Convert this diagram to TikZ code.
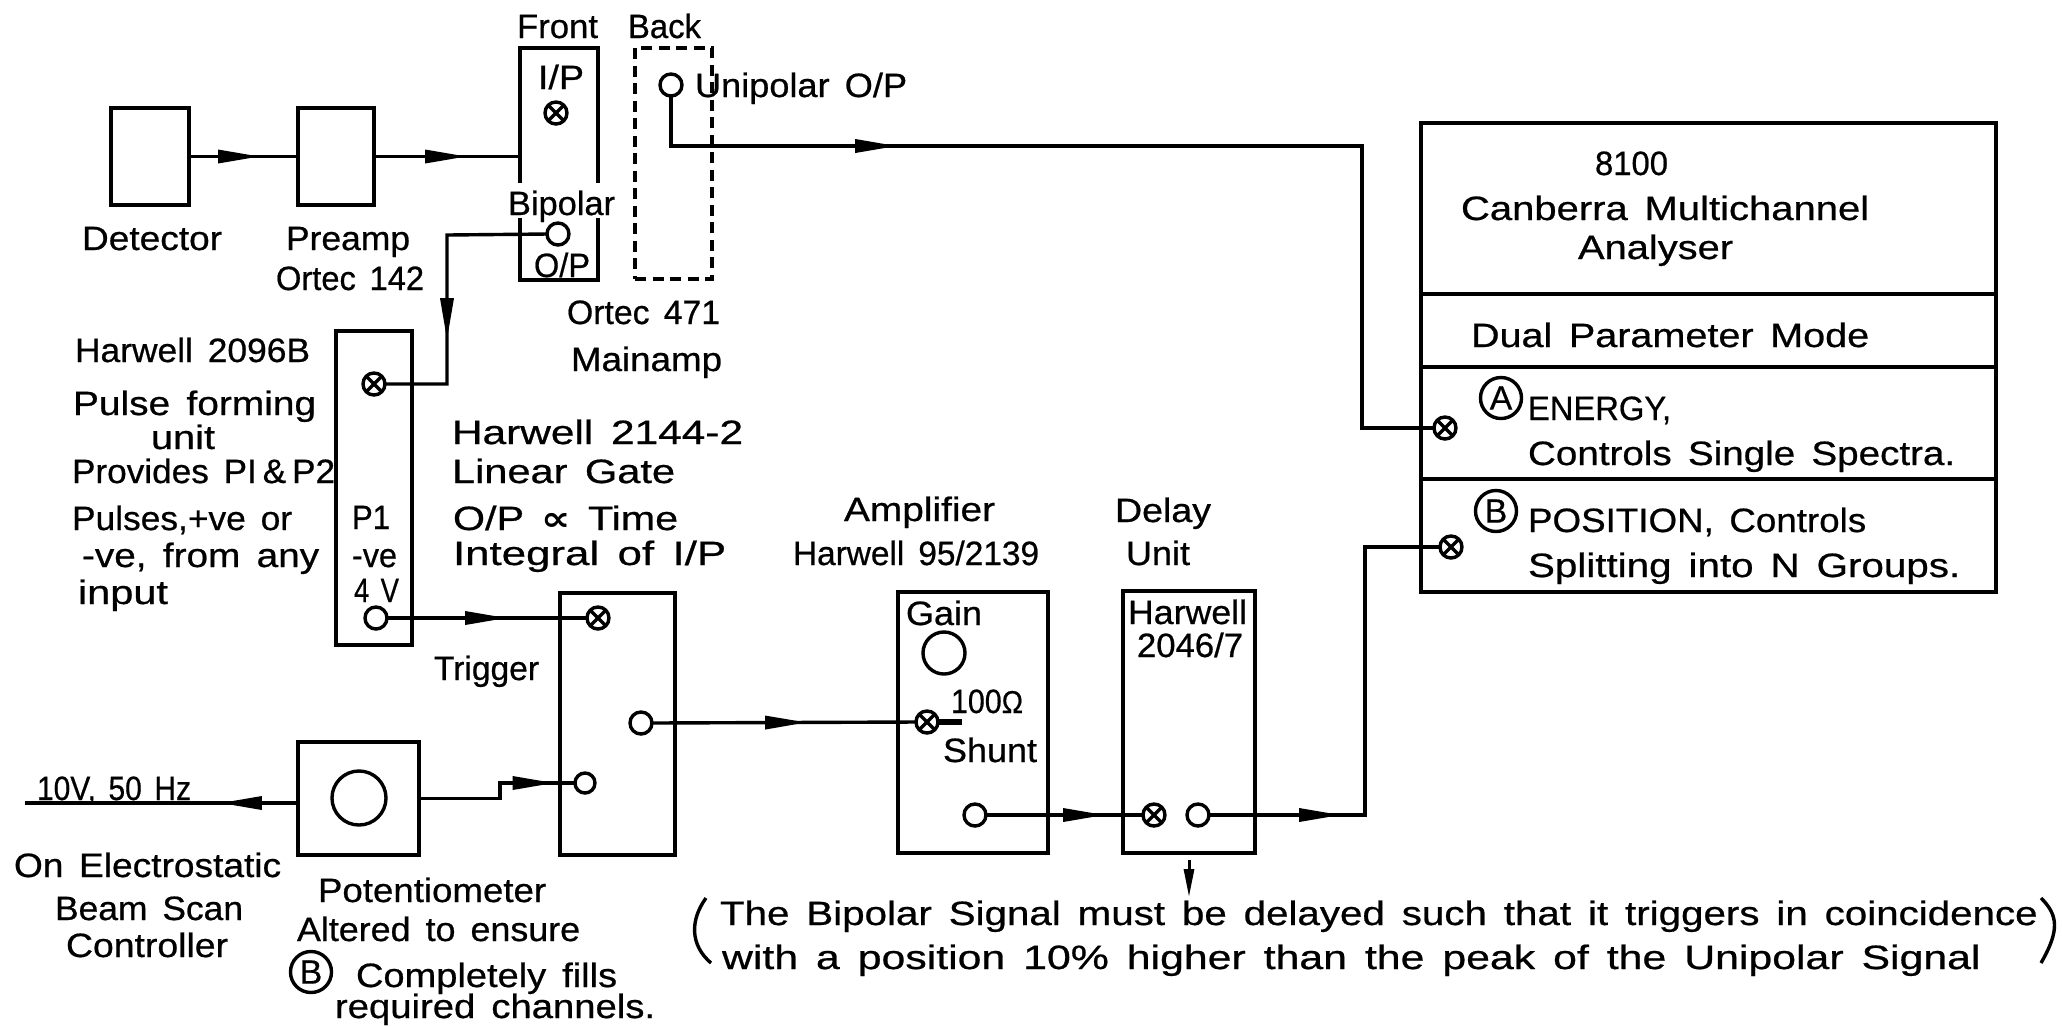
\documentclass[tikz,border=0pt]{standalone}
\usepackage{graphicx}
\usepackage{fontspec}
\setmainfont{Liberation Sans}[BoldFont=Liberation Sans,BoldFeatures={FakeBold=0.6}]
\newfontfamily\symfont{DejaVu Sans}
\usetikzlibrary{arrows.meta,decorations.markings}
\newcommand\lfont{\fontsize{9.6}{11}\selectfont\bfseries\spaceskip=0.42em plus 0.1em\relax}
\newsavebox\labbox
\tikzset{
  ln/.style={line width=0.034cm},
  boxn/.style={draw,ln,rectangle,inner sep=0pt,outer sep=0pt},
  ghost/.style={rectangle,inner sep=0pt,outer sep=0pt},
  txt/.style={anchor=base west,inner sep=0pt,outer sep=0pt,text=black},
  port/.style={circle,draw,ln,fill=white,inner sep=0pt,outer sep=0pt,minimum size=0.22cm},
  xport/.style={port,path picture={
     \draw[ln] (path picture bounding box.north west)--(path picture bounding box.south east);
     \draw[ln] (path picture bounding box.north east)--(path picture bounding box.south west);}},
  knob/.style={circle,draw,ln,inner sep=0pt,outer sep=0pt},
  badge/.style={circle,draw,ln,inner sep=0pt,outer sep=0pt,minimum size=0.41cm,font=\lfont},
  wire/.style={ln,line join=miter},
  tipat/.style={postaction={decorate,decoration={markings,
     mark=at position #1 with {\arrow{Triangle[length=0.42cm,width=0.13cm]}}}}},
}
% name, left x, centre y, width, text
\newcommand\lab[5]{%
  \node[txt] (#1) at (#2,{#3+12}) {\lfont
    \setbox\labbox=\hbox{#5}%
    \pgfmathsetmacro\rx{#4*0.284528/\the\wd\labbox}%
    \scalebox{\rx}[1]{#5}};}
% name, x1, y1, x2, y2, extra style
\newcommand\bx[6]{%
  \pgfmathsetmacro\bw{(#4-#2)*0.01}%
  \pgfmathsetmacro\bh{(#5-#3)*0.01}%
  \node[#6,minimum width=\bw cm,minimum height=\bh cm] (#1) at ({(#2+#4)/2},{(#3+#5)/2}) {};}
\begin{document}
\begin{tikzpicture}[x=0.01cm,y=-0.01cm]
\path[fill=white,use as bounding box] (0,0) rectangle (2062,1026);

% boxes
\bx{det}{111}{108}{189}{205}{boxn}
\bx{pre}{298}{108}{374}{205}{boxn}
\bx{front}{520}{48}{598}{280}{ghost}
\draw[ln] (520,183) -- (520,48) -- (598,48) -- (598,183);
\draw[ln] (520,218) -- (520,280) -- (598,280) -- (598,218);
\bx{back}{635}{48}{712}{279}{boxn,dash pattern=on 0.11cm off 0.065cm}
\bx{pulse}{336}{331}{412}{645}{boxn}
\bx{gate}{560}{593}{675}{855}{boxn}
\bx{pot}{298}{742}{419}{855}{boxn}
\bx{amp}{898}{592}{1048}{853}{boxn}
\bx{delay}{1123}{591}{1255}{853}{boxn}
\bx{cana}{1421}{123}{1996}{294}{boxn}
\bx{canb}{1421}{294}{1996}{367}{boxn}
\bx{canc}{1421}{367}{1996}{479}{boxn}
\bx{cand}{1421}{479}{1996}{592}{boxn}

% ports
\node[xport] (ipx) at (556,113) {};
\node[port] (bip) at (558,234) {};
\node[port] (uni) at (671,85) {};
\node[xport] (pin) at (374,384) {};
\node[port] (pout) at (376,618) {};
\node[xport] (gin) at (598,618) {};
\node[port] (gout) at (641,723) {};
\node[port,minimum size=0.2cm] (gl) at (585,783) {};
\node[xport] (ain) at (927,722) {};
\node[port] (aout) at (975,815) {};
\node[xport] (din) at (1154,815) {};
\node[port] (dout) at (1198,815) {};
\node[xport] (ener) at (1445,428) {};
\node[xport] (posn) at (1451,547) {};
\node[knob,minimum size=0.54cm] (potk) at (359,798) {};
\node[knob,minimum size=0.42cm] (gaink) at (944,653) {};
\node[badge] (ba) at (1501,398) {A};
\node[badge] (bb) at (1496,511) {B};
\node[badge] (bc) at (311,972) {B};

% free connector points
\coordinate (c1) at (1362,146);
\coordinate (c2) at (447,235);
\coordinate (c3) at (1365,815);
\coordinate (cs) at (500,783);
\coordinate (src) at (25,803);
\coordinate (potl) at (298,803);
\coordinate (bar) at (962,722);
\coordinate (dl1) at (1189,860);
\coordinate (dl2) at (1189,897);

% connectors
\draw[wire,tipat=0.71cm] (det.east) -- (pre.west);
\draw[wire,tipat=0.93cm] (pre.east) -- (pre.east -| front.west);
\draw[wire,tipat=2.76cm] (uni.south) |- (c1) |- (ener.west);
\draw[wire,tipat=2.05cm] (bip.west) -- (c2) |- (pin.east);
\draw[wire,tipat=1.20cm] (pout.east) -- (gin.west);
\draw[wire,tipat=1.55cm] (gout.east) -- (ain.west);
\draw[wire,tipat=0.78cm] (potl) -- (src);
\draw[wire,tipat=1.51cm] (pot.east) -| (cs) -- (gl.west);
\draw[wire,tipat=1.19cm] (aout.east) -- (din.west);
\draw[wire,tipat=1.32cm] (dout.east) -- (c3) |- (posn.west);
\draw[line width=0.065cm] (ain.east) -- (bar);
\draw[line width=0.03cm,-{Triangle[length=0.28cm,width=0.1cm]}] (dl1) -- (dl2);

% brackets
\draw[ln] (706,898) .. controls (690,920) and (690,945) .. (711,963);
\draw[ln] (2041,898) .. controls (2058,915) and (2060,930) .. (2041,963);

% labels
\lab{tfront}{517}{26}{81}{Front}
\lab{tback}{628}{26}{73}{Back}
\lab{tip}{538}{77}{46}{I/P}
\lab{tbip}{508}{203}{107}{Bipolar}
\lab{top}{534}{265}{56}{O/P}
\lab{tuni}{695}{85}{212}{Unipolar O/P}
\lab{tdet}{82}{238}{140}{Detector}
\lab{tpre}{286}{238}{124}{Preamp}
\lab{to142}{276}{278}{148}{Ortec 142}
\lab{to471}{567}{312}{153}{Ortec 471}
\lab{tmain}{571}{359}{151}{Mainamp}
\lab{th2096}{75}{350}{235}{Harwell 2096B}
\lab{tpf}{73}{403}{243}{Pulse forming}
\lab{tunit}{151}{437}{64}{unit}
\lab{tprov}{72}{471}{263}{Provides PI\,\&\,P2}
\lab{tpuls}{72}{518}{220}{Pulses,+ve or}
\lab{tneg}{82}{555}{237}{-ve, from any}
\lab{tinp}{78}{592}{90}{input}
\lab{tp1}{352}{517}{38}{P1}
\lab{tve}{352}{555}{45}{-ve}
\lab{t4v}{354}{590}{45}{4 V}
\lab{th2144}{452}{432}{291}{Harwell 2144-2}
\lab{tlg}{452}{471}{223}{Linear Gate}
\lab{top2}{453}{518}{225}{O/P {\symfont ∝} Time}
\lab{tint}{453}{553}{273}{Integral of I/P}
\lab{ttrig}{434}{668}{105}{Trigger}
\lab{tampl}{844}{509}{151}{Amplifier}
\lab{th95}{793}{553}{246}{Harwell 95/2139}
\lab{tdelay}{1115}{510}{96}{Delay}
\lab{tdunit}{1126}{553}{64}{Unit}
\lab{tgain}{906}{613}{76}{Gain}
\lab{t100}{951}{701}{72}{100{\small Ω}}
\lab{tshunt}{943}{750}{94}{Shunt}
\lab{thw}{1128}{612}{119}{Harwell}
\lab{t2046}{1137}{645}{106}{2046/7}
\lab{t10v}{37}{788}{154}{10V, 50 Hz}
\lab{toe}{14}{865}{267}{On Electrostatic}
\lab{tbs}{55}{908}{188}{Beam Scan}
\lab{tctl}{66}{945}{162}{Controller}
\lab{tpot}{318}{890}{228}{Potentiometer}
\lab{talt}{297}{929}{283}{Altered to ensure}
\lab{tcf}{356}{975}{261}{Completely fills}
\lab{treq}{335}{1006}{320}{required channels.}
\lab{t8100}{1595}{163}{73}{8100}
\lab{tcm}{1461}{208}{408}{Canberra Multichannel}
\lab{tan}{1578}{247}{155}{Analyser}
\lab{tdp}{1471}{335}{398}{Dual Parameter Mode}
\lab{ten}{1528}{408}{143}{ENERGY,}
\lab{tcs}{1528}{453}{427}{Controls Single Spectra.}
\lab{tps}{1528}{520}{338}{POSITION, Controls}
\lab{tsp}{1528}{565}{432}{Splitting into N Groups.}
\lab{tn1}{720}{913}{1317}{The Bipolar Signal must be delayed such that it triggers in coincidence}
\lab{tn2}{722}{957}{1258}{with a position 10\% higher than the peak of the Unipolar Signal}
\end{tikzpicture}
\end{document}
